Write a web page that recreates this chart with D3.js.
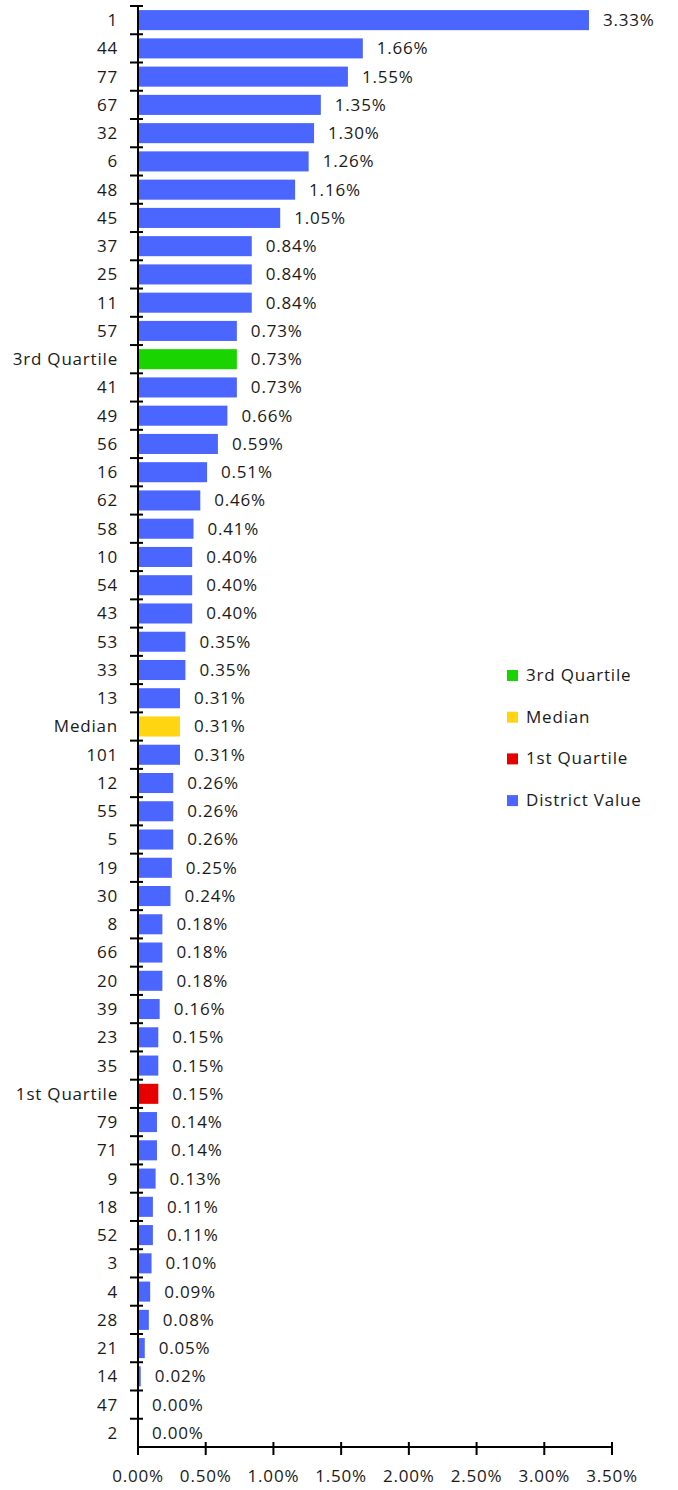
<!DOCTYPE html>
<html>
<head>
  <script src="https://d3js.org/d3.v7.min.js"></script>
  <style>
    body { margin: 0; background: #fff; }
    text { font-family: "Open Sans", sans-serif; fill: #1a1a1a; font-size: 17px; letter-spacing: 0.8px; }
  </style>
</head>
<body>
  <svg width="678" height="1490"></svg>
<script>

const categories = ['1','44','77','67','32','6','48','45','37','25','11','57','3rd Quartile','41','49','56','16','62','58','10','54','43','53','33','13','Median','101','12','55','5','19','30','8','66','20','39','23','35','1st Quartile','79','71','9','18','52','3','4','28','21','14','47','2'];
const values = [3.33,1.66,1.55,1.35,1.30,1.26,1.16,1.05,0.84,0.84,0.84,0.73,0.73,0.73,0.66,0.59,0.51,0.46,0.41,0.40,0.40,0.40,0.35,0.35,0.31,0.31,0.31,0.26,0.26,0.26,0.25,0.24,0.18,0.18,0.18,0.16,0.15,0.15,0.15,0.14,0.14,0.13,0.11,0.11,0.10,0.09,0.08,0.05,0.02,0.00,0.00];
const xTicks = [0,0.5,1,1.5,2,2.5,3,3.5];
const legendLabels = ['3rd Quartile','Median','1st Quartile','District Value'];
const legendColors = ['#19d400','#ffd411','#e60000','#4a66ff'];

let colorOf = (c) => {
  let i = legendLabels.indexOf(c);
  return i >= 0 ? legendColors[i] : legendColors[3];
}

const data = categories.map((c, i) => ({cat: c, val: values[i]}));

let svg = d3.select('svg');
const mLeft = 138, mRight = 612, mTop = 6, mBottom = 1447;

let x = d3.scaleLinear().domain([0, 3.5]).range([mLeft, mRight]);
let y = d3.scaleBand().domain(categories).range([mTop, mBottom]).paddingInner(0.29).paddingOuter(0.145);

// bars
svg.append('g').selectAll('rect')
  .data(data).enter().append('rect')
  .attr('x', x(0) + 1)
  .attr('y', d => y(d.cat))
  .attr('width', d => Math.max(0, x(d.val) - x(0) - 1))
  .attr('height', y.bandwidth())
  .style('fill', d => colorOf(d.cat));

// value labels
svg.append('g').selectAll('text')
  .data(data).enter().append('text')
  .attr('x', d => x(d.val) + 14)
  .attr('y', d => y(d.cat) + y.bandwidth() / 2)
  .attr('dy', '0.35em')
  .text(d => d.val.toFixed(2) + '%');

// category labels
svg.append('g').selectAll('text')
  .data(data).enter().append('text')
  .attr('x', 118)
  .attr('y', d => y(d.cat) + y.bandwidth() / 2)
  .attr('dy', '0.35em')
  .attr('text-anchor', 'end')
  .text(d => d.cat);

// y axis line and ticks at band boundaries
let step = y.step();
let yg = svg.append('g').style('stroke', '#000').style('stroke-width', 2);
yg.append('line').attr('x1', mLeft).attr('x2', mLeft).attr('y1', mTop).attr('y2', mBottom);
d3.range(categories.length).forEach(i => {
  let yy = mTop + i * step;
  yg.append('line').attr('x1', mLeft - 8).attr('x2', mLeft + 5).attr('y1', yy).attr('y2', yy);
});

// x axis
let xg = svg.append('g').attr('transform', 'translate(0,' + mBottom + ')');
xg.append('line').attr('x1', mLeft).attr('x2', mRight).attr('y1', 0).attr('y2', 0)
  .style('stroke', '#000').style('stroke-width', 2);
xTicks.forEach(t => {
  xg.append('line').attr('x1', x(t)).attr('x2', x(t)).attr('y1', -5).attr('y2', 8)
    .style('stroke', '#000').style('stroke-width', 2);
  xg.append('text').attr('x', x(t)).attr('y', 29).attr('dy', '0.35em')
    .attr('text-anchor', 'middle')
    .text(t.toFixed(2) + '%');
});

// legend
let lg = svg.append('g');
legendLabels.forEach((l, i) => {
  let ly = 675 + i * 41.7;
  lg.append('rect').attr('x', 507).attr('y', ly - 5).attr('width', 11).attr('height', 11)
    .style('fill', legendColors[i]);
  lg.append('text').attr('x', 526).attr('y', ly).attr('dy', '0.35em').text(l);
});

</script>
</body>
</html>
